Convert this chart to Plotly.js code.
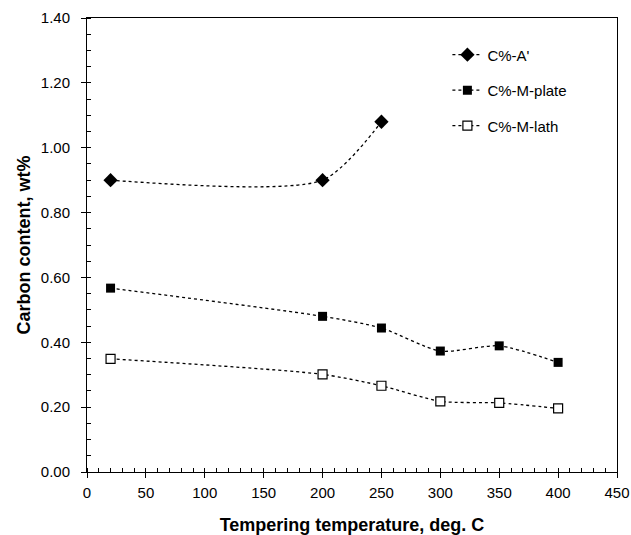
<!DOCTYPE html>
<html>
<head>
<meta charset="utf-8">
<script src="https://cdn.plot.ly/plotly-3.0.1.min.js"></script>
<style>html,body{margin:0;padding:0;background:#fff;}#chart{width:631px;height:535px;}</style>
</head>
<body>
<div id="chart"></div>
<script>
const tempA = [20, 200, 250];
const carbonA = [0.90, 0.90, 1.08];
const tempM = [20, 200, 250, 300, 350, 400];
const carbonPlate = [0.567, 0.480, 0.444, 0.373, 0.389, 0.338];
const carbonLath = [0.349, 0.301, 0.266, 0.218, 0.213, 0.196];
const seriesNames = ["C%-A'", "C%-M-plate", "C%-M-lath"];

const lineStyle = {color: '#000', width: 1.3, dash: 'dot', shape: 'spline', smoothing: 0.7};
const traces = [
  {x: tempA, y: carbonA, name: seriesNames[0], legendgroup: 'a', mode: 'lines+markers', line: lineStyle,
   marker: {symbol: 'diamond', size: 11, color: '#000'}},
  {x: tempM, y: carbonPlate, name: seriesNames[1], legendgroup: 'b', mode: 'lines+markers', line: lineStyle,
   marker: {symbol: 'square', size: 9, color: '#000'}},
  {x: tempM, y: carbonLath, name: seriesNames[2], legendgroup: 'c', mode: 'lines+markers', line: lineStyle,
   marker: {symbol: 'square', size: 9, color: '#fff', line: {color: '#000', width: 1.2}}}
];

const font = {family: 'Liberation Sans, Arial, sans-serif', color: '#000'};
const layout = {
  width: 631, height: 535,
  margin: {l: 87, r: 14, t: 18, b: 63},
  paper_bgcolor: '#fff', plot_bgcolor: '#fff',
  font: Object.assign({size: 15}, font),
  showlegend: true,
  legend: {x: 0.68, y: 0.955, xanchor: 'left', yanchor: 'top', bgcolor: 'rgba(0,0,0,0)',
           font: Object.assign({size: 15}, font), tracegroupgap: 13, traceorder: 'grouped'},
  xaxis: {
    range: [0, 450], dtick: 50, tick0: 0, showgrid: false, zeroline: false,
    showline: true, linecolor: '#000', linewidth: 1, mirror: true,
    ticks: 'outside', ticklen: 5, tickcolor: '#000', tickwidth: 1, ticklabelstandoff: 2,
    minor: {dtick: 10, ticks: 'inside', ticklen: 4, tickcolor: '#000', showgrid: false},
    tickfont: Object.assign({size: 15}, font),
    title: {text: 'Tempering temperature, deg. C', font: Object.assign({size: 18, weight: 'bold'}, font), standoff: 23}
  },
  yaxis: {
    range: [0, 1.4], dtick: 0.2, tick0: 0, tickformat: '.2f', showgrid: false, zeroline: false,
    showline: true, linecolor: '#000', linewidth: 1, mirror: true,
    ticks: 'outside', ticklen: 5, tickcolor: '#000', tickwidth: 1, ticklabelstandoff: 8,
    minor: {dtick: 0.05, ticks: 'inside', ticklen: 4, tickcolor: '#000', showgrid: false},
    tickfont: Object.assign({size: 15}, font),
    title: {text: 'Carbon content, wt%', font: Object.assign({size: 18, weight: 'bold'}, font), standoff: 5}
  }
};

Plotly.newPlot('chart', traces, layout, {displayModeBar: false, staticPlot: true});
</script>
</body>
</html>
